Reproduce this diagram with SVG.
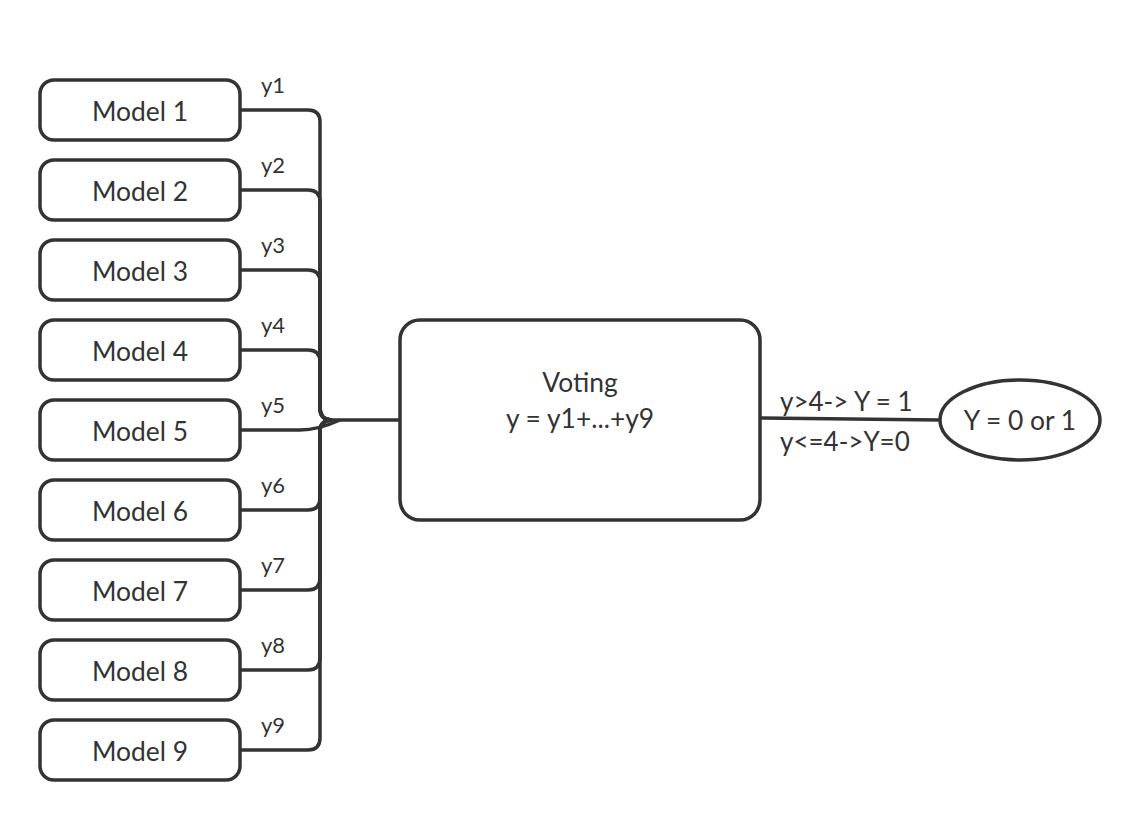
<svg xmlns="http://www.w3.org/2000/svg" width="1140" height="820" viewBox="0 0 1140 820">
<style>
.box{fill:#fff;stroke:#333;stroke-width:3.5}
.edge{fill:none;stroke:#333;stroke-width:3.5}
.t{font-family:Lato,"Open Sans",sans-serif;fill:#333;font-size:26.4px}
.l{font-family:Lato,"Open Sans",sans-serif;fill:#333;font-size:26px}
.s{font-family:Lato,"Open Sans",sans-serif;fill:#333;font-size:22px}
.m{text-anchor:middle}
</style>
<rect width="1140" height="820" fill="#fff"/>
<g id="connectors">
<path class="edge" d="M240,110 L308,110 Q320,110 320,122 L320,408 Q320,420 332,420 L400,420"/>
<path class="edge" d="M240,190 L308,190 Q320,190 320,202 L320,408 Q320,420 332,420"/>
<path class="edge" d="M240,270 L308,270 Q320,270 320,282 L320,408 Q320,420 332,420"/>
<path class="edge" d="M240,350 L308,350 Q320,350 320,362 L320,408 Q320,420 332,420"/>
<path class="edge" d="M240,430 L300,430 Q318,430 340,420"/>
<path class="edge" d="M240,510 L308,510 Q320,510 320,498 L320,432 Q320,420 332,420"/>
<path class="edge" d="M240,590 L308,590 Q320,590 320,578 L320,432 Q320,420 332,420"/>
<path class="edge" d="M240,670 L308,670 Q320,670 320,658 L320,432 Q320,420 332,420"/>
<path class="edge" d="M240,750 L308,750 Q320,750 320,738 L320,432 Q320,420 332,420"/>
<path class="edge" d="M760,418 L940,420"/>
<text class="s" x="261" y="93">y1</text>
<text class="s" x="261" y="173">y2</text>
<text class="s" x="261" y="253">y3</text>
<text class="s" x="261" y="333">y4</text>
<text class="s" x="261" y="413">y5</text>
<text class="s" x="261" y="493">y6</text>
<text class="s" x="261" y="573">y7</text>
<text class="s" x="261" y="653">y8</text>
<text class="s" x="261" y="733">y9</text>
<text class="l" x="780" y="411">y&gt;4-&gt; Y = 1</text>
<text class="l" x="780" y="451">y&lt;=4-&gt;Y=0</text>
</g>
<g id="model1"><rect class="box" x="40" y="80" width="200" height="60" rx="14"/><text class="t m" x="140" y="121">Model 1</text></g>
<g id="model2"><rect class="box" x="40" y="160" width="200" height="60" rx="14"/><text class="t m" x="140" y="201">Model 2</text></g>
<g id="model3"><rect class="box" x="40" y="240" width="200" height="60" rx="14"/><text class="t m" x="140" y="281">Model 3</text></g>
<g id="model4"><rect class="box" x="40" y="320" width="200" height="60" rx="14"/><text class="t m" x="140" y="361">Model 4</text></g>
<g id="model5"><rect class="box" x="40" y="400" width="200" height="60" rx="14"/><text class="t m" x="140" y="441">Model 5</text></g>
<g id="model6"><rect class="box" x="40" y="480" width="200" height="60" rx="14"/><text class="t m" x="140" y="521">Model 6</text></g>
<g id="model7"><rect class="box" x="40" y="560" width="200" height="60" rx="14"/><text class="t m" x="140" y="601">Model 7</text></g>
<g id="model8"><rect class="box" x="40" y="640" width="200" height="60" rx="14"/><text class="t m" x="140" y="681">Model 8</text></g>
<g id="model9"><rect class="box" x="40" y="720" width="200" height="60" rx="14"/><text class="t m" x="140" y="761">Model 9</text></g>
<g id="voting"><rect class="box" x="400" y="320" width="360" height="200" rx="20"/><text class="t m" x="580" y="392">Voting</text><text class="t m" x="580" y="428">y = y1+...+y9</text></g>
<g id="output"><ellipse class="box" cx="1020" cy="420" rx="80" ry="40"/><text class="t m" x="1020" y="430">Y = 0 or 1</text></g>
</svg>
